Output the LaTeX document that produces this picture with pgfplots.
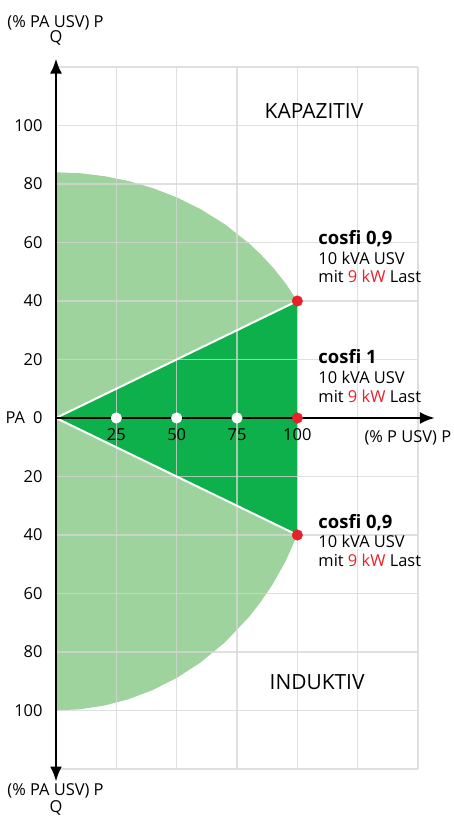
\documentclass[border=0pt]{standalone}
\usepackage{fontspec}
\setmainfont{Open Sans}
\usepackage{pgfplots}
\pgfplotsset{compat=1.18}
\usetikzlibrary{arrows.meta}
\definecolor{lgreen}{HTML}{9FD39D}
\definecolor{dgreen}{HTML}{0DB04B}
\definecolor{cred}{HTML}{E8202A}
\definecolor{gridgray}{HTML}{D6D6D6}
\newcommand\annot{\fontsize{16.5}{19}\selectfont}
\newcommand\annotb{\fontsize{18.5}{22}\selectfont\bfseries}
\begin{document}
\begin{tikzpicture}
\begin{axis}[
 set layers,
 scale only axis, width=362bp, height=702bp,
 xmin=0, xmax=150, ymin=-120, ymax=120,
 axis x line=middle, axis y line=left,
 x axis line style={draw=none}, y axis line style={draw=none},
 xtick={0,25,50,75,100,125,150}, xticklabels={,25,50,75,100,,},
 ytick={-120,-100,-80,-60,-40,-20,0,20,40,60,80,100,120},
 yticklabels={,100,80,60,40,20,PA\hspace{8bp}0,20,40,60,80,100,},
 major tick length=0pt,
 grid=major, major grid style={draw=gridgray, line width=1.3bp, opacity=0.75},
 tick label style={font=\fontsize{16.5}{19}\selectfont},
 xticklabel style={anchor=north, yshift=-7bp},
 yticklabel style={anchor=east, xshift=-10bp},
 clip=false,
 /pgf/number format/assume math mode=true,
]
% light green area (P/Q capability)
\addplot[on layer=axis background, fill=lgreen, draw=none] coordinates {
 (0,84) (10,83.67) (20,82.69) (30,81.02) (40,78.63) (50,75.44) (60,71.36)
 (70,66.20) (80,59.70) (85,55.80) (90,51.35) (95,46.17) (100,40)
 (100,-40) (95,-49.18) (90,-56.53) (85,-62.70) (80,-68.00) (70,-76.71)
 (60,-83.52) (50,-88.88) (40,-93.04) (30,-96.15) (20,-98.31) (10,-99.58) (0,-100)
};
% dark green triangle
\addplot[on layer=axis background, fill=dgreen, draw=none] coordinates {(0,0) (100,40) (100,-40)};
% white lines
\addplot[white, line width=2bp] coordinates {(0,0) (100,40)};
\addplot[white, line width=2bp] coordinates {(0,0) (100,-40)};
% axes
\draw[black, line width=2.5bp, {Latex[length=15bp,width=12bp]}-{Latex[length=15bp,width=12bp]}] (axis cs:0,-124.3) -- (axis cs:0,122.9);
\draw[black, line width=2.5bp, -{Latex[length=15bp,width=12bp]}] (axis cs:0,0) -- (axis cs:157,0);
% dots
\addplot[only marks, color=white, mark=*, mark size=5.3bp, mark options={solid, fill=white, draw=white}] coordinates {(25,0) (50,0) (75,0)};
\addplot[only marks, color=cred, mark=*, mark size=5.3bp, mark options={solid, fill=cred, draw=cred}] coordinates {(100,40) (100,0) (100,-40)};
% annotations
\node[anchor=base west, font=\annotb] at (axis cs:107.3,59.3) {cosfi 0,9};
\node[anchor=base west, font=\annot] at (axis cs:107.3,52.6) {10 kVA USV};
\node[anchor=base west, font=\annot] at (axis cs:107.3,46.2) {mit \textcolor{cred}{9 kW} Last};
\node[anchor=base west, font=\annotb] at (axis cs:107.3,18.5) {cosfi 1};
\node[anchor=base west, font=\annot] at (axis cs:107.3,11.8) {10 kVA USV};
\node[anchor=base west, font=\annot] at (axis cs:107.3,5.3) {mit \textcolor{cred}{9 kW} Last};
\node[anchor=base west, font=\annotb] at (axis cs:107.3,-37.8) {cosfi 0,9};
\node[anchor=base west, font=\annot] at (axis cs:107.3,-44.3) {10 kVA USV};
\node[anchor=base west, font=\annot] at (axis cs:107.3,-50.8) {mit \textcolor{cred}{9 kW} Last};
\node[font=\fontsize{21}{24}\selectfont] at (axis cs:106.9,104.8) {KAPAZITIV};
\node[font=\fontsize{21}{24}\selectfont] at (axis cs:108.2,-90.4) {INDUKTIV};
\node[anchor=west, font=\annot] at (axis cs:126.4,-6.7) {(\% P USV) P};
\node[font=\annot] at (axis cs:-0.2,135.2) {(\% PA USV) P};
\node[font=\annot] at (axis cs:0,130.0) {Q};
\node[font=\annot] at (axis cs:-0.2,-127.6) {(\% PA USV) P};
\node[font=\annot] at (axis cs:0,-133.4) {Q};
\coordinate (bbsw) at (rel axis cs:0,0);
\coordinate (bbne) at (rel axis cs:1,1);
\end{axis}
\pgfresetboundingbox
\path ([shift={(-56bp,-47bp)}]bbsw) rectangle ([shift={(36bp,67bp)}]bbne);
\end{tikzpicture}
\end{document}
